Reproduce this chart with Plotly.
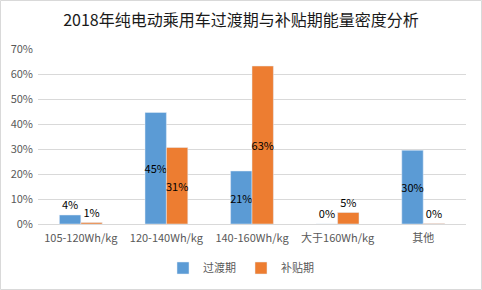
import plotly.graph_objects as go

categories = ["105-120Wh/kg", "120-140Wh/kg", "140-160Wh/kg", "大于160Wh/kg", "其他"]
transition = [3.6, 44.6, 21.2, 0.0, 29.5]
subsidy = [0.6, 30.6, 63.2, 4.6, 0.2]
series_names = ["过渡期", "补贴期"]
y_ticks = [0, 10, 20, 30, 40, 50, 60, 70]
y_tick_labels = [f"{v}%" for v in y_ticks]

blue = "#5B9BD5"
orange = "#ED7D31"
font_cjk = "Microsoft YaHei, Noto Sans CJK SC, sans-serif"

def positions(vals):
    return ["inside" if v >= 15 else "outside" for v in vals]

fig = go.Figure()
for name, vals, col in [(series_names[0], transition, blue), (series_names[1], subsidy, orange)]:
    fig.add_trace(go.Bar(
        x=categories, y=vals, name=name, marker_color=col,
        texttemplate="%{y:.0f}%", textposition=positions(vals),
        insidetextanchor="middle", textangle=0, constraintext="none",
        textfont=dict(size=11, color="#000000", family=font_cjk),
        cliponaxis=False,
    ))

fig.update_layout(
    width=482, height=290,
    margin=dict(l=38, r=16, t=49, b=66),
    paper_bgcolor="white", plot_bgcolor="white",
    barmode="group", bargap=0.5, bargroupgap=0,
    title=dict(text="2018年纯电动乘用车过渡期与补贴期能量密度分析",
               x=0.5, xanchor="center", y=1 - 20/290, yanchor="middle",
               font=dict(size=16, color="#1a1a1a", family=font_cjk)),
    font=dict(family=font_cjk, size=11, color="#595959"),
    showlegend=True,
    legend=dict(orientation="h", xref="container", x=0.5, xanchor="center",
                yref="container", y=22/290, yanchor="middle",
                font=dict(size=11, color="#595959"), itemwidth=30,
                traceorder="normal"),
    xaxis=dict(showgrid=False, showline=False, ticks="", ticklabelstandoff=6,
               automargin=False, tickfont=dict(size=11, color="#595959")),
    yaxis=dict(range=[0, 70], tickvals=y_ticks, ticktext=y_tick_labels,
               showgrid=True, gridcolor="#D9D9D9", gridwidth=1,
               zeroline=True, zerolinecolor="#D9D9D9", zerolinewidth=1,
               showline=False, ticks="", ticklabelstandoff=4, automargin=False,
               tickfont=dict(size=11, color="#595959")),
    shapes=[dict(type="rect", xref="paper", yref="paper",
                 x0=-37.5/428, x1=1 + 15.5/428, y0=-65.5/175, y1=1 + 48.5/175,
                 line=dict(color="#D9D9D9", width=1), layer="below")],
)

fig.write_html("out.html")
